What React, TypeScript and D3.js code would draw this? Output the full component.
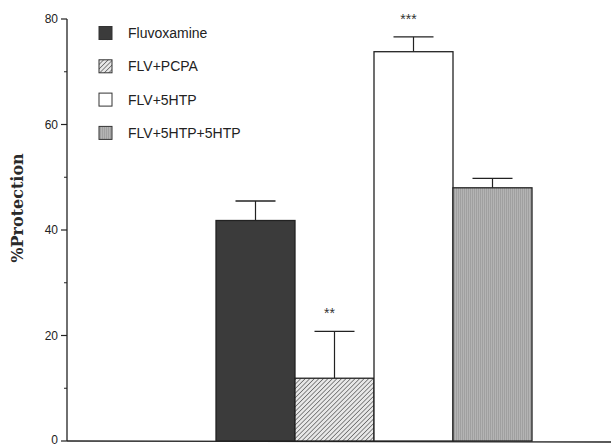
import React from 'react';
import * as d3 from 'd3';

const groups = ['Fluvoxamine', 'FLV+PCPA', 'FLV+5HTP', 'FLV+5HTP+5HTP'];
const means = [41.8, 11.9, 73.8, 48.0];
const errs = [3.7, 8.9, 2.8, 1.8];
const stars = ['', '**', '***', ''];
const yTicks = [0, 20, 40, 60, 80];
const yMinor = [10, 30, 50, 70];

const fills = ['#3b3b3b', 'url(#hatch)', '#ffffff', 'url(#grain)'];

const W = 611, H = 446;

export default function App() {
    const y = d3.scaleLinear().domain([0, 80]).range([441, 19]);
    const x = d3.scaleBand<string>().domain(groups).range([216, 532]).padding(0);
    const axisX = 67;

    return (
        <svg width={W} height={H} style={{ position: 'absolute', left: 0, top: 0, background: '#fff' }}>
            <defs>
                <pattern id="hatch" width="3.2" height="3.2" patternUnits="userSpaceOnUse" patternTransform="rotate(45)">
                    <rect width="3.2" height="3.2" fill="#e8e8e8" />
                    <line x1="0" y1="0" x2="0" y2="3.2" stroke="#444" strokeWidth="1.2" />
                </pattern>
                <pattern id="grain" width="2" height="4" patternUnits="userSpaceOnUse">
                    <rect width="2" height="4" fill="#b4b4b4" />
                    <line x1="0.5" y1="0" x2="0.5" y2="4" stroke="#9a9a9a" strokeWidth="0.8" />
                </pattern>
            </defs>

            {/* axes */}
            <line x1={axisX} y1={y(80)} x2={axisX} y2={y(0)} stroke="#222" strokeWidth={1.3} />
            <line x1={axisX} y1={y(0)} x2={W} y2={y(0) + 1} stroke="#222" strokeWidth={1.3} />
            {yTicks.map(t => (
                <g key={t}>
                    <line x1={axisX - 6} x2={axisX} y1={y(t)} y2={y(t)} stroke="#222" strokeWidth={1.2} />
                    <text x={axisX - 9} y={t === 0 ? y(t) - 1 : y(t)} dy="0.35em" textAnchor="end"
                          fontFamily="Liberation Sans, Arial, sans-serif" fontSize={12} fill="#222">{t}</text>
                </g>
            ))}
            {yMinor.map(t => (
                <line key={t} x1={axisX - 3} x2={axisX} y1={y(t)} y2={y(t)} stroke="#222" strokeWidth={1} />
            ))}

            <text transform="translate(23,208) rotate(-90)" textAnchor="middle"
                  fontFamily="DejaVu Serif, serif" fontWeight="bold" fontSize={16} fill="#2a2a2a">
                %Protection
            </text>

            {/* bars */}
            {groups.map((g, i) => {
                const bx = x(g)!;
                const bw = x.bandwidth();
                const cx = bx + bw / 2;
                return (
                    <g key={g}>
                        <line x1={cx} x2={cx} y1={y(means[i])} y2={y(means[i] + errs[i])} stroke="#222" strokeWidth={1.2} />
                        <line x1={cx - 20} x2={cx + 20} y1={y(means[i] + errs[i])} y2={y(means[i] + errs[i])} stroke="#222" strokeWidth={1.3} />
                        <rect x={bx} y={y(means[i])} width={bw} height={y(0) - y(means[i])}
                              fill={fills[i]} stroke="#222" strokeWidth={1.3} />
                        {stars[i] && (
                            <text x={cx - 5} y={y(means[i] + errs[i]) - 13} textAnchor="middle"
                                  fontFamily="Liberation Sans, Arial, sans-serif" fontSize={14} fill="#333">{stars[i]}</text>
                        )}
                    </g>
                );
            })}

            {/* legend */}
            {groups.map((g, i) => {
                const ly = 33 + i * 33.3;
                return (
                    <g key={g}>
                        <rect x={99} y={ly - 6.5} width={13} height={13} fill={fills[i]} stroke="#333" strokeWidth={1} />
                        <text x={128} y={ly} dy="0.35em" fontFamily="Liberation Sans, Arial, sans-serif"
                              fontSize={14} fill="#222">{g}</text>
                    </g>
                );
            })}
        </svg>
    );
}
